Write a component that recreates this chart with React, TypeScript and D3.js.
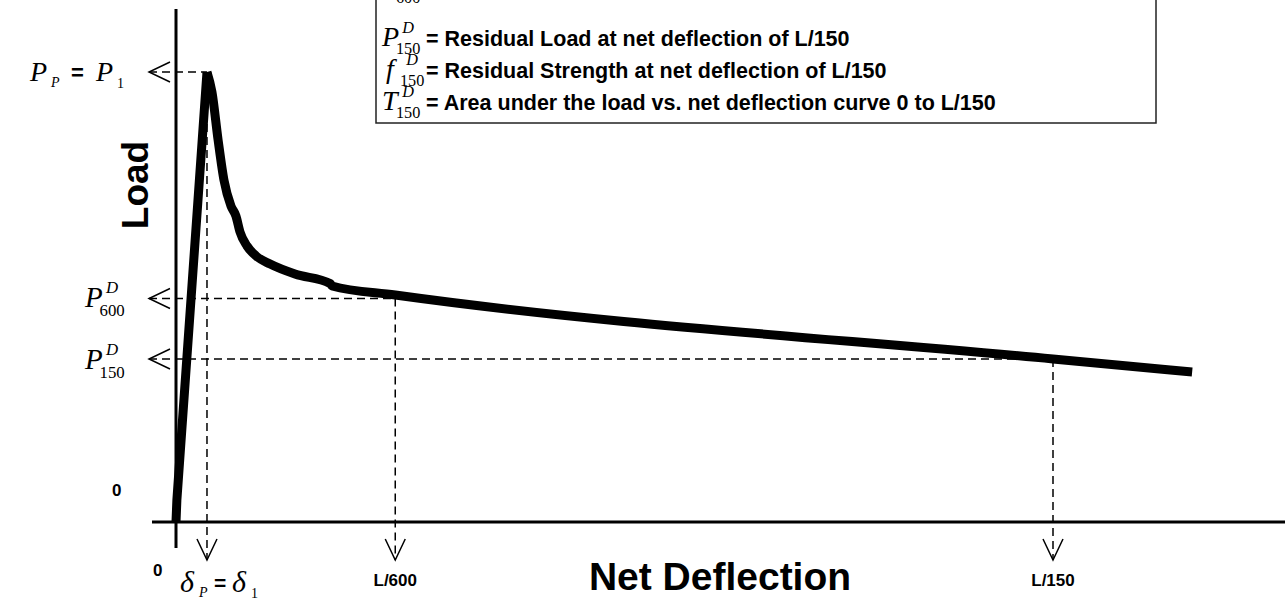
import React from 'react';
import * as d3 from 'd3';

// load vs net deflection curve (deflection in mm, load in kN)
const deflection = [0, 0.003, 0.106, 0.123, 0.144, 0.164, 0.188, 0.205, 0.219, 0.243, 0.274, 0.322, 0.407, 0.527, 0.534, 0.75, 3.0, 3.476];
const load = [0, 2.2, 45.0, 43.0, 38.2, 34.2, 31.6, 30.6, 29.0, 27.6, 26.6, 25.8, 24.8, 23.85, 23.6, 22.7, 16.3, 15.0];
const peakIndex = 2;

// reference points: peak, L/600, L/150
const refDeflections = [0.106, 0.75, 3.0];
const refLoads = [45.0, 22.35, 16.3];
const refTickLabels = ['', 'L/600', 'L/150'];

// legend rows
const legendMain = ['P', 'P', 'f', 'T'];
const legendSub = ['600', '150', '150', '150'];
const legendText = [
  '= Residual Load at net deflection of L/600',
  '= Residual Load at net deflection of L/150',
  '= Residual Strength at net deflection of L/150',
  '= Area under the load vs. net deflection curve 0 to L/150',
];

const W = 1285;
const H = 603;
const SANS = 'Liberation Sans, Arial, Helvetica, sans-serif';
const SERIF = 'Liberation Serif, Times New Roman, serif';

function Sym({ x, y, main, sup, sub, size = 28 }) {
  const small = size * 0.58;
  const off = main === 'f' ? 4 : 0;
  return (
    <g fontFamily={SERIF}>
      <text x={x + off} y={y} fontSize={size} fontStyle="italic">{main}</text>
      {sup && <text x={x + size * 0.72 + off} y={y - size * 0.48} fontSize={small} fontStyle="italic">{sup}</text>}
      {sub && <text x={x + size * 0.5 + off} y={y + size * 0.3} fontSize={small}>{sub}</text>}
    </g>
  );
}

function leftArrow(tipX, yy) {
  return `M${tipX + 21},${yy - 10}L${tipX},${yy}L${tipX + 21},${yy + 10}`;
}
function downArrow(xx, tipY) {
  return `M${xx - 10},${tipY - 21}L${xx},${tipY}L${xx + 10},${tipY - 21}`;
}

export default function App() {
  const x = d3.scaleLinear().domain([0, 3]).range([176, 1053]);
  const y = d3.scaleLinear().domain([0, 45]).range([522, 72]);

  const rise = d3
    .line<number>()
    .x((i) => x(deflection[i]))
    .y((i) => y(load[i]));
  const fall = d3
    .line<number>()
    .curve(d3.curveMonotoneX)
    .x((i) => x(deflection[i]))
    .y((i) => y(load[i]));
  const idx = d3.range(deflection.length);

  const arrowTipX = 149;
  const arrowTipY = 560;

  return (
    <svg width={W} height={H} style={{ position: 'absolute', left: 0, top: 0, background: '#fff' }}>
      {/* legend box, cut at the top */}
      <rect x={376} y={-30} width={780} height={153} fill="#fff" stroke="#222" strokeWidth={1.5} />
      {legendText.map((t, i) => {
        const base = i === 0 ? -5 : 46 + (i - 1) * 32;
        return (
          <g key={i}>
            <Sym x={382} y={base} main={legendMain[i]} sup="D" sub={legendSub[i]} size={28} />
            <text x={426} y={base} fontFamily={SANS} fontWeight="bold" fontSize={21.5}>{t}</text>
          </g>
        );
      })}

      {/* axes */}
      <line x1={x(0)} x2={x(0)} y1={9} y2={548} stroke="#000" strokeWidth={3} />
      <line x1={152} x2={W} y1={y(0)} y2={y(0)} stroke="#000" strokeWidth={3} />

      {/* dashed reference lines */}
      {refDeflections.map((d, i) => (
        <g key={i} stroke="#000" strokeWidth={1.5} fill="none">
          <line x1={arrowTipX} x2={x(d)} y1={y(refLoads[i])} y2={y(refLoads[i])} strokeDasharray="8,5" />
          <line x1={x(d)} x2={x(d)} y1={y(refLoads[i])} y2={arrowTipY} strokeDasharray="8,5" />
          <path d={leftArrow(arrowTipX, y(refLoads[i]))} />
          <path d={downArrow(x(d), arrowTipY)} />
        </g>
      ))}

      {/* load curve */}
      <g fill="none" stroke="#000" strokeWidth={9}>
        <path d={rise(idx.slice(0, peakIndex + 1)) || ''} strokeLinejoin="miter" />
        <path d={fall(idx.slice(peakIndex)) || ''} strokeLinejoin="round" />
      </g>

      {/* y labels */}
      <g fontFamily={SERIF}>
        <text x={30} y={81} fontSize={28} fontStyle="italic">P</text>
        <text x={51} y={87} fontSize={14} fontStyle="italic">P</text>
        <text x={71} y={80} fontSize={22} fontFamily={SANS} fontWeight="bold">=</text>
        <text x={96} y={81} fontSize={28} fontStyle="italic">P</text>
        <text x={117} y={88} fontSize={14}>1</text>
      </g>
      <Sym x={85} y={307} main="P" sup="D" sub="600" size={29} />
      <Sym x={85} y={369} main="P" sup="D" sub="150" size={29} />

      <text x={112} y={496} fontFamily={SANS} fontWeight="bold" fontSize={17}>0</text>
      <text x={153} y={576} fontFamily={SANS} fontWeight="bold" fontSize={17}>0</text>

      <text
        transform={`translate(148,${185}) rotate(-90)`}
        textAnchor="middle"
        fontFamily={SANS}
        fontWeight="bold"
        fontSize={37}
      >
        Load
      </text>

      {/* x labels */}
      <g fontFamily={SERIF}>
        <text x={180} y={592} fontSize={30} fontStyle="italic">δ</text>
        <text x={199} y={597} fontSize={14} fontStyle="italic">P</text>
        <text x={214} y={590} fontSize={21} fontFamily={SANS} fontWeight="bold">=</text>
        <text x={232} y={592} fontSize={30} fontStyle="italic">δ</text>
        <text x={251} y={598} fontSize={14}>1</text>
      </g>
      {refDeflections.map((d, i) => (
        <text key={i} x={x(d)} y={586} textAnchor="middle" fontFamily={SANS} fontWeight="bold" fontSize={17}>
          {refTickLabels[i]}
        </text>
      ))}
      <text x={720} y={590} textAnchor="middle" fontFamily={SANS} fontWeight="bold" fontSize={39}>
        Net Deflection
      </text>
    </svg>
  );
}
